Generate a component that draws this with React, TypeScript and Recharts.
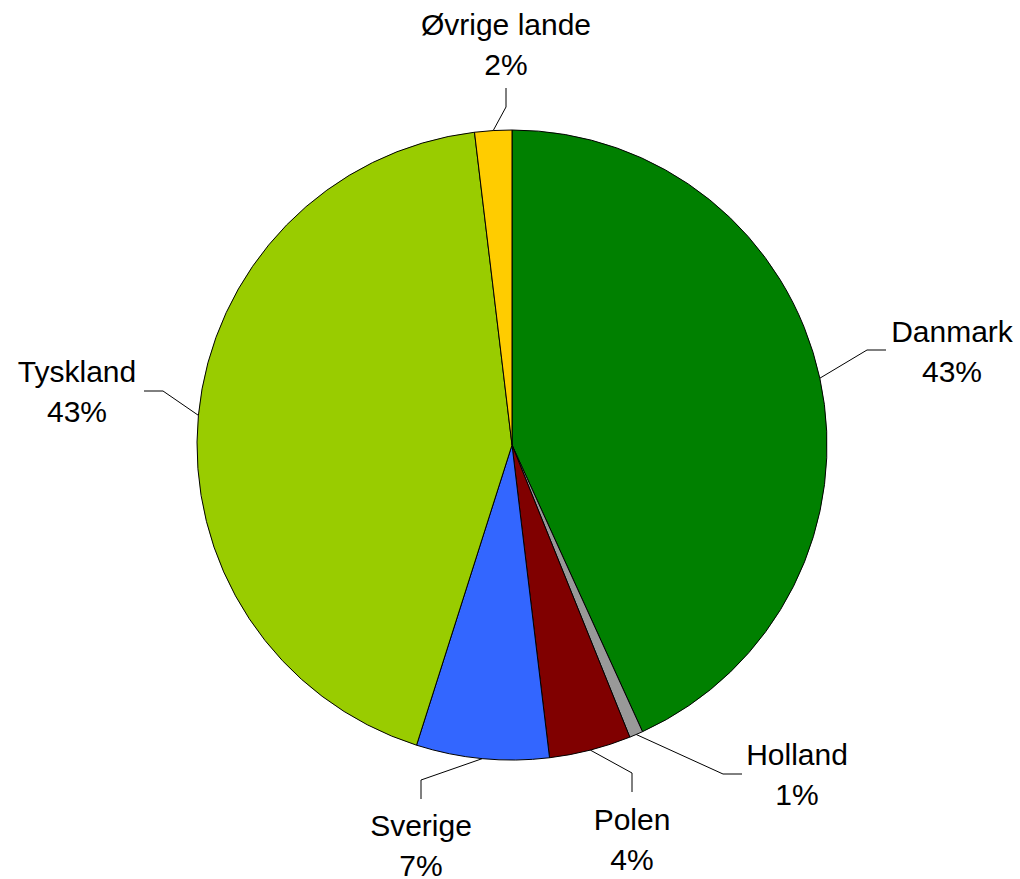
import React from "react";
import { PieChart, Pie, Cell } from "recharts";

const categories = ["Danmark", "Holland", "Polen", "Sverige", "Tyskland", "Øvrige lande"];
const shares = [43.2, 0.7, 4.2, 6.8, 43.2, 1.9];
const sliceColors = ["#008000", "#999999", "#800000", "#3366FF", "#99CC00", "#FFCC00"];

const data = categories.map((name, i) => ({ name, value: shares[i] }));

// Label placement (elbow B, end E, text centre tx / first baseline ty), relative to pie centre
const LABEL_LAYOUT: Record<string, { bx: number; by: number; ex: number; ey: number; tx: number; ty: number }> = {
  "Danmark": { bx: 355, by: -95, ex: 374, ey: -95, tx: 440, ty: -103 },
  "Holland": { bx: 211, by: 329, ex: 230, ey: 329, tx: 285, ty: 320 },
  "Polen": { bx: 120, by: 328, ex: 120, ey: 347, tx: 120, ty: 385 },
  "Sverige": { bx: -91, by: 335, ex: -91, ey: 354, tx: -91, ty: 391 },
  "Tyskland": { bx: -349, by: -54, ex: -368, ey: -54, tx: -435, ty: -63 },
  "Øvrige lande": { bx: -6, by: -338, ex: -6, ey: -357, tx: -6, ty: -410 },
};

const RAD = Math.PI / 180;
const LINE_GAP = 39.5;

const renderLabel = (props: any) => {
  const { cx, cy, midAngle, outerRadius, name, value } = props;
  const lay = LABEL_LAYOUT[name];
  if (!lay) return null;
  const px = cx + outerRadius * Math.cos(-midAngle * RAD);
  const py = cy + outerRadius * Math.sin(-midAngle * RAD);
  const pts = `${px},${py} ${cx + lay.bx},${cy + lay.by} ${cx + lay.ex},${cy + lay.ey}`;
  return (
    <g>
      <polyline points={pts} fill="none" stroke="#000" strokeWidth={1} />
      <text
        x={cx + lay.tx}
        y={cy + lay.ty}
        textAnchor="middle"
        fontFamily="'Liberation Sans', Arial, sans-serif"
        fontSize={30}
        fill="#000"
      >
        <tspan x={cx + lay.tx} y={cy + lay.ty}>{name}</tspan>
        <tspan x={cx + lay.tx} y={cy + lay.ty + LINE_GAP}>{`${Math.round(value)}%`}</tspan>
      </text>
    </g>
  );
};

export default function App() {
  return (
    <div style={{ position: "absolute", left: 0, top: 0, width: 1020, height: 879, background: "#fff" }}>
      <PieChart width={1020} height={879} margin={{ top: 0, right: 0, bottom: 0, left: 0 }}>
        <Pie
          data={data}
          dataKey="value"
          nameKey="name"
          cx={512}
          cy={445}
          outerRadius={315}
          startAngle={90}
          endAngle={-270}
          stroke="#000"
          strokeWidth={1}
          label={renderLabel}
          labelLine={false}
          isAnimationActive={false}
        >
          {data.map((d, i) => (
            <Cell key={d.name} fill={sliceColors[i]} />
          ))}
        </Pie>
      </PieChart>
    </div>
  );
}
